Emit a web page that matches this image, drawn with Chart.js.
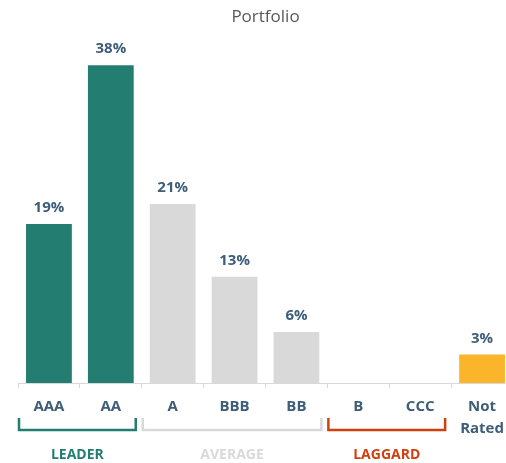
<!DOCTYPE html>
<html>
<head>
<meta charset="utf-8">
<script src="https://cdn.jsdelivr.net/npm/chart.js@4"></script>
<style>
  html, body { margin: 0; padding: 0; background: #fff; overflow: hidden; }
  #wrap { width: 513px; height: 463px; }
</style>
</head>
<body>
<div id="wrap"><canvas id="chartPortfolio" width="513" height="463"></canvas></div>
<script>
const ratings = ['AAA', 'AA', 'A', 'BBB', 'BB', 'B', 'CCC', ['Not', 'Rated']];
const weights = [19.0, 38.0, 21.4, 12.7, 6.1, 0, 0, 3.4];
const barColors = ['#237d70', '#237d70', '#d9d9d9', '#d9d9d9', '#d9d9d9', '#d9d9d9', '#d9d9d9', '#fbb52b'];
const groups = [
    { label: 'LEADER', from: 0, to: 1, color: '#237d70' },
    { label: 'AVERAGE', from: 2, to: 4, color: '#d9d9d9' },
    { label: 'LAGGARD', from: 5, to: 6, color: '#d0400f' }
];

const textColor = '#3d5d78';
const fontFam = '"Open Sans", sans-serif';

// etiquetas encima de cada barra
const valueLabels = {
    id: 'valueLabels',
    afterDatasetsDraw(chart) {
        const ctx = chart.ctx;
        const meta = chart.getDatasetMeta(0);
        ctx.save();
        ctx.font = 'bold 15px ' + fontFam;
        ctx.fillStyle = textColor;
        ctx.textAlign = 'center';
        ctx.textBaseline = 'middle';
        meta.data.forEach((bar, i) => {
            if (!weights[i]) return;
            ctx.fillText(Math.round(weights[i]) + '%', bar.x, bar.y - 16);
        });
        ctx.restore();
    }
};

// corchetes de grupo bajo el eje
const groupBrackets = {
    id: 'groupBrackets',
    afterDraw(chart) {
        const ctx = chart.ctx;
        const x = chart.scales.x;
        const half = (x.getPixelForValue(1) - x.getPixelForValue(0)) / 2;
        ctx.save();
        groups.forEach(g => {
            const x0 = x.getPixelForValue(g.from) - half + 1;
            const x1 = x.getPixelForValue(g.to) + half - 6;
            ctx.strokeStyle = g.color;
            ctx.lineWidth = 2.5;
            ctx.beginPath();
            ctx.moveTo(x0, 418);
            ctx.lineTo(x0, 430);
            ctx.lineTo(x1, 430);
            ctx.lineTo(x1, 418);
            ctx.stroke();
            ctx.font = 'bold 14px ' + fontFam;
            ctx.fillStyle = g.color;
            ctx.textAlign = 'center';
            ctx.textBaseline = 'middle';
            ctx.fillText(g.label, (x0 + x1) / 2, 455);
        });
        ctx.restore();
    }
};

new Chart(document.getElementById('chartPortfolio'), {
    type: 'bar',
    data: {
        labels: ratings,
        datasets: [{ label: 'Portfolio', data: weights, backgroundColor: barColors, barPercentage: 0.74, categoryPercentage: 1 }]
    },
    options: {
        responsive: false,
        animation: false,
        layout: { padding: { left: 18, right: 0, top: 0, bottom: 0 } },
        plugins: {
            legend: { display: false },
            tooltip: { enabled: false },
            title: {
                display: true,
                text: 'Portfolio',
                color: '#595959',
                font: { family: fontFam, size: 17, weight: 'normal' },
                padding: { top: 7, bottom: 21 }
            }
        },
        scales: {
            x: {
                grid: { drawOnChartArea: false, drawTicks: true, tickLength: 5, color: '#d9d9d9' },
                border: { display: true, color: '#d9d9d9' },
                ticks: {
                    color: textColor,
                    padding: 7,
                    maxRotation: 0,
                    autoSkip: false,
                    font: { family: fontFam, size: 15, weight: 'bold', lineHeight: 1.5 }
                },
                afterFit: s => { s.height = 80; }
            },
            y: { display: false, min: 0, max: 40 }
        }
    },
    plugins: [valueLabels, groupBrackets]
});
</script>
</body>
</html>
